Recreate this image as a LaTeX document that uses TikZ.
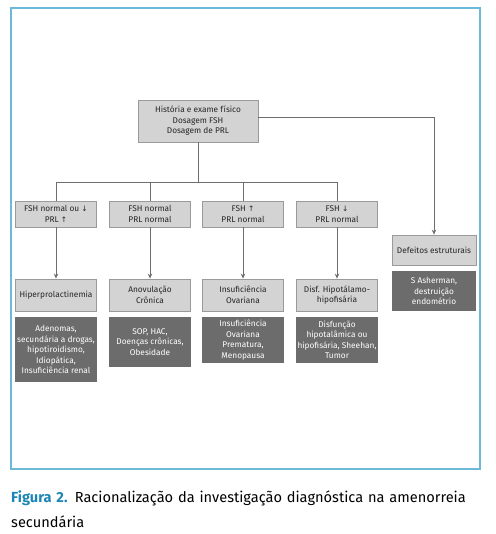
\documentclass[tikz,border=0pt]{standalone}
\usepackage{fontspec}
\setmainfont{Fira Sans}
\newfontfamily\symf{DejaVu Sans}
\usetikzlibrary{arrows.meta}
\definecolor{lightfill}{HTML}{D3D3D3}
\definecolor{lightedge}{HTML}{9A9A9A}
\definecolor{darkfill}{HTML}{6C6C6C}
\definecolor{linegrey}{HTML}{6E6E6E}
\definecolor{framecol}{HTML}{6DB9D8}
\definecolor{capblue}{HTML}{1A86B5}
\newcommand{\up}{{\symf\fontsize{7.5}{9}\selectfont ↑}}
\newcommand{\dn}{{\symf\fontsize{7.5}{9}\selectfont ↓}}
\tikzset{
  lbox/.style={draw=lightedge, fill=lightfill, line width=0.8pt, align=center,
    inner sep=1pt, font=\fontsize{8.3}{10.5}\selectfont, text=black!85},
  dbox/.style={fill=darkfill, align=center, inner sep=1pt,
    font=\fontsize{8.3}{10.5}\selectfont, text=white},
  conn/.style={draw=linegrey, line width=1pt},
  arr/.style={conn, -{Stealth[length=5pt,width=4.5pt]}}
}
\begin{document}
\begin{tikzpicture}[x=1pt,y=-1pt]
\useasboundingbox (0,0) rectangle (495,534);
\draw[framecol, line width=1.2pt] (11,8) rectangle (480,469);

\node[lbox, minimum width=120pt, minimum height=42pt] (top) at (198,121)
  {História e exame físico\\Dosagem FSH\\Dosagem de PRL};

\foreach \n/\x/\t in {a/56/{FSH normal ou \dn\\PRL \up}, b/150/{FSH normal\\PRL normal},
  c/243/{FSH \up\\PRL normal}, d/337/{FSH \dn\\PRL normal}}{
  \node[lbox, minimum width=81pt, minimum height=26pt] (r1\n) at (\x,214) {\t};
}
\foreach \n/\x/\t in {a/56/{Hiperprolactinemia}, b/150/{Anovulação\\Crônica},
  c/243/{Insuficiência\\Ovariana}, d/337/{Disf. Hipotálamo-\\hipofisária}}{
  \node[lbox, minimum width=81pt, minimum height=32pt] (r2\n) at (\x,295) {\t};
}
\node[dbox, minimum width=82pt, minimum height=65pt] (r3a) at (56,349.5)
  {Adenomas,\\secundária a drogas,\\hipotiroidismo,\\Idiopática,\\Insuficiência renal};
\node[dbox, minimum width=82pt, minimum height=50pt] (r3b) at (150,342)
  {SOP, HAC,\\Doenças crônicas,\\Obesidade};
\node[dbox, minimum width=82pt, minimum height=46pt] (r3c) at (243,340)
  {Insuficiência\\Ovariana\\Prematura,\\Menopausa};
\node[dbox, minimum width=82pt, minimum height=46pt] (r3d) at (337,340)
  {Disfunção\\hipotalâmica ou\\hipofisária, Sheehan,\\Tumor};

\node[lbox, minimum width=84pt, minimum height=30pt] (def) at (434,250) {Defeitos estruturais};
\node[dbox, minimum width=84pt, minimum height=40pt] (ash) at (434,291)
  {S Asherman,\\destruição\\endométrio};

\coordinate (j) at (198,183);
\draw[conn] (top.south) -- (j);
\draw[conn] (r1a.north) |- (r1d.north |- j) -- (r1d.north);
\draw[conn] (r1b.north) -- (r1b.north |- j);
\draw[conn] (r1c.north) -- (r1c.north |- j);
\foreach \n in {a,b,c,d}{
  \draw[arr] (r1\n.south) -- (r2\n.north);
}
\draw[arr] ([yshift=3pt]top.east) -| (def.north);

\node[anchor=north west, inner sep=0pt, align=left, text width=480pt,
  font=\fontsize{14.6}{25}\selectfont] (cap) at (11,490)
  {\textcolor{capblue}{\textbf{Figura 2.}} Racionalização da investigação diagnóstica na amenorreia\\secundária};
\end{tikzpicture}
\end{document}
